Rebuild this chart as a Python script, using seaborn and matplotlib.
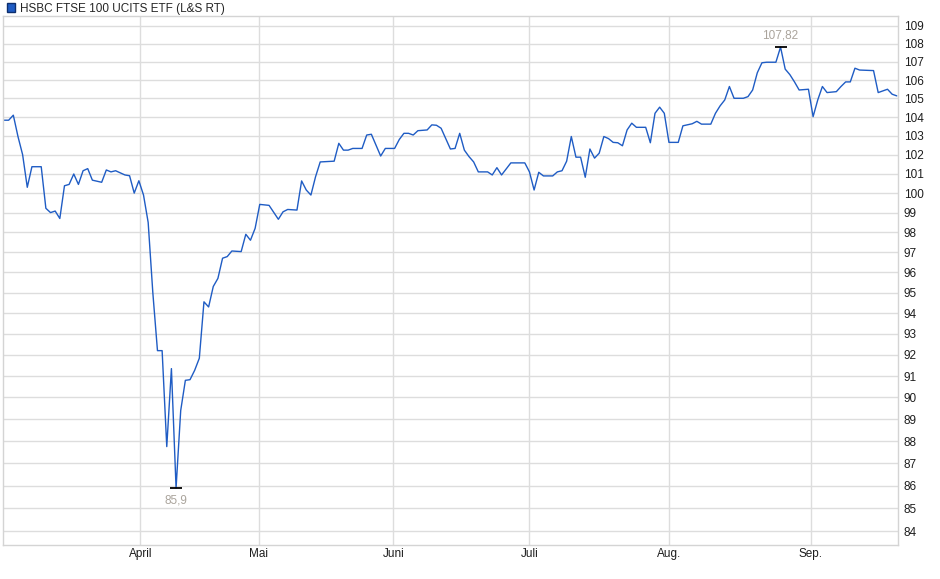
import numpy as np
import pandas as pd
import seaborn as sns
import matplotlib
matplotlib.use("Agg")
import matplotlib.pyplot as plt
from matplotlib.patches import Patch
from matplotlib.ticker import FixedLocator, NullLocator

tag = [0, 1, 2, 3, 4, 5, 6, 8, 9, 10, 11, 12, 13, 14, 15, 16, 17, 18, 19, 21,
       22, 23, 24, 26, 27, 28, 29, 30, 31, 32, 33, 34, 35, 36, 37, 38, 39, 40,
       41, 42, 43, 44, 45, 46, 47, 48, 49, 51, 52, 53, 54, 55, 57, 59, 60, 61,
       63, 64, 65, 66, 67, 68, 71, 72, 73, 74, 75, 77, 78, 79, 81, 82, 84, 85,
       86, 87, 88, 89, 91, 92, 93, 94, 96, 97, 98, 99, 100, 101, 102, 104, 105,
       106, 107, 109, 112, 113, 114, 115, 116, 118, 119, 120, 121, 122, 123,
       124, 125, 126, 127, 128, 129, 130, 131, 132, 133, 134, 135, 136, 138,
       139, 140, 141, 142, 143, 145, 146, 148, 149, 150, 152, 153, 154, 155,
       156, 157, 159, 160, 161, 162, 163, 164, 166, 167, 168, 169, 170, 171,
       173, 174, 175, 176, 177, 179, 180, 181, 182, 183, 184, 187, 188, 190,
       191, 192]
kurs = [103.83, 103.83, 104.1, 102.96, 102.0, 100.3, 101.37, 101.37, 99.22,
        99.0, 99.08, 98.7, 100.38, 100.45, 100.99, 100.45, 101.16, 101.27,
        100.67, 100.56, 101.2, 101.1, 101.16, 100.94, 100.9, 100.0, 100.64,
        99.9, 98.5, 95.0, 92.2, 92.2, 87.75, 91.35, 85.9, 89.4, 90.8, 90.83,
        91.27, 91.84, 94.55, 94.3, 95.3, 95.7, 96.7, 96.78, 97.06, 97.03, 97.9,
        97.6, 98.2, 99.42, 99.37, 98.66, 99.04, 99.16, 99.13, 100.63, 100.16,
        99.9, 100.85, 101.62, 101.66, 102.6, 102.24, 102.24, 102.33, 102.33,
        103.04, 103.08, 101.93, 102.33, 102.33, 102.8, 103.13, 103.13, 103.04,
        103.27, 103.31, 103.58, 103.56, 103.4, 102.3, 102.33, 103.13, 102.24,
        101.9, 101.62, 101.1, 101.1, 100.94, 101.32, 100.94, 101.57, 101.57,
        101.1, 100.16, 101.08, 100.89, 100.89, 101.1, 101.16, 101.66, 102.96,
        101.87, 101.87, 100.82, 102.3, 101.82, 102.08, 102.96, 102.85, 102.65,
        102.63, 102.47, 103.31, 103.67, 103.45, 103.45, 102.63, 104.2, 104.53,
        104.2, 102.65, 102.65, 103.53, 103.64, 103.77, 103.62, 103.62, 104.2,
        104.6, 104.92, 105.65, 105.01, 105.01, 105.1, 105.46, 106.4, 106.95,
        106.98, 106.98, 107.82, 106.6, 106.3, 105.9, 105.46, 105.5, 104.02,
        104.92, 105.65, 105.32, 105.37, 105.65, 105.9, 105.9, 106.65, 106.55,
        106.52, 105.32, 105.5, 105.23, 105.14]

monat_pos = [29.35, 54.73, 83.76, 113.0, 143.1, 173.5]
monat_label = ["April", "Mai", "Juni", "Juli", "Aug.", "Sep."]
y_ticks = list(range(84, 110))

df = pd.DataFrame({"tag": tag, "kurs": kurs})

sns.set_style("white")
plt.rcParams["font.family"] = ["Liberation Sans", "DejaVu Sans"]

fig = plt.figure(figsize=(9.4, 5.79), dpi=100)
ax = fig.add_axes([3 / 940, 1 - 545 / 579, 895 / 940, 529 / 579])

linie = "#1f5cc4"
sns.lineplot(data=df, x="tag", y="kurs", ax=ax, estimator=None, sort=False,
             color=linie, linewidth=1.0)

ax.set_yscale("log")
ax.set_ylim(83.41, 109.56)
ax.set_xlim(-0.22, 192.26)
ax.yaxis.set_major_locator(FixedLocator(y_ticks))
ax.yaxis.set_minor_locator(NullLocator())
ax.set_yticklabels([str(v) for v in y_ticks])
ax.yaxis.tick_right()
ax.set_xticks(monat_pos)
ax.set_xticklabels(monat_label)
ax.tick_params(axis="both", length=0, labelsize=8.5, colors="#1e1e1e")
ax.tick_params(axis="y", pad=4)
ax.tick_params(axis="x", pad=2)
ax.set_xlabel("")
ax.set_ylabel("")
ax.grid(True, color="#dddddd", linewidth=1.0)
ax.set_axisbelow(True)
for s in ax.spines.values():
    s.set_color("#d4d4d4")
    s.set_linewidth(1.0)

# Min / Max Markierung
i_min = int(np.argmin(kurs))
i_max = int(np.argmax(kurs))
label_farbe = "#aaa49c"
for i, dy, va in [(i_min, -5, "top"), (i_max, 4, "bottom")]:
    ax.plot(tag[i], kurs[i], marker="_", markersize=9, markeredgewidth=1.3,
            color="black")
    txt = f"{kurs[i]:g}".replace(".", ",")
    ax.annotate(txt, (tag[i], kurs[i]), xytext=(0, dy), textcoords="offset points",
                ha="center", va=va, fontsize=8.5, color=label_farbe)

fig.legend(handles=[Patch(facecolor="#1f5cc4", edgecolor="#0d2f6e",
                          label="HSBC FTSE 100 UCITS ETF (L&S RT)")],
           loc="upper left", bbox_to_anchor=(-0.004, 1.014), frameon=False,
           fontsize=8.5, handlelength=0.7, handleheight=0.7, handletextpad=0.4)

fig.savefig("out.png", dpi=100)
